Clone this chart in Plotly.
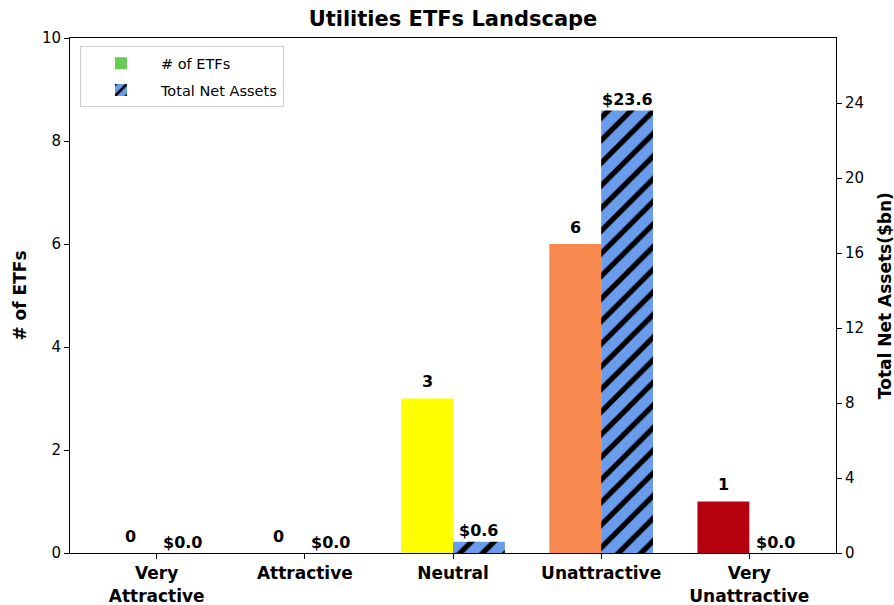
import plotly.graph_objects as go

categories = ["Very<br>Attractive", "Attractive", "Neutral", "Unattractive", "Very<br>Unattractive"]
num_etfs = [0, 0, 3, 6, 1]
net_assets = [0.0, 0.0, 0.6, 23.6, 0.0]
etf_colors = ["#66cc55", "#3cb371", "#ffff00", "#f7894f", "#b5000f"]
asset_color = "#6a9ced"

idx = list(range(len(categories)))
w = 0.35
x_etf = [i - w / 2 for i in idx]
x_ast = [i + w / 2 for i in idx]

font = "DejaVu Sans"

fig = go.Figure()
fig.add_trace(go.Bar(
    x=x_etf, y=num_etfs, width=w, name="# of ETFs",
    marker=dict(color=etf_colors, line=dict(width=0)),
    yaxis="y", legendgroup="a",
))
fig.add_trace(go.Bar(
    x=x_ast, y=net_assets, width=w, name="Total Net Assets",
    marker=dict(color=asset_color, line=dict(width=0),
                pattern=dict(shape="/", fgcolor="black", bgcolor=asset_color, fgopacity=1,
                             size=16, solidity=0.33, fillmode="replace")),
    yaxis="y2", legendgroup="b",
))

annotations = []
for xi, v in zip(x_etf, num_etfs):
    annotations.append(dict(x=xi, y=v, xref="x", yref="y", text=f"<b>{v}</b>",
                            showarrow=False, yanchor="middle", yshift=17,
                            font=dict(family=font, size=16, color="black")))
for xi, v in zip(x_ast, net_assets):
    annotations.append(dict(x=xi, y=v, xref="x", yref="y2", text=f"<b>${v:.1f}</b>",
                            showarrow=False, yanchor="middle", yshift=11,
                            font=dict(family=font, size=16, color="black")))

# axis titles
annotations.append(dict(x=-0.0665, y=0.5, xref="paper", yref="paper", text="<b># of ETFs</b>",
                        textangle=-90, showarrow=False, xanchor="center", yanchor="middle",
                        font=dict(family=font, size=17, color="black")))
annotations.append(dict(x=1.0635, y=0.5, xref="paper", yref="paper", text="<b>Total Net Assets($bn)</b>",
                        textangle=-90, showarrow=False, xanchor="center", yanchor="middle",
                        font=dict(family=font, size=17, color="black")))

fig.update_layout(
    width=894, height=605,
    margin=dict(l=70, r=58, t=38, b=52, autoexpand=False),
    paper_bgcolor="white", plot_bgcolor="white",
    font=dict(family=font, size=15, color="black"),
    title=dict(text="<b>Utilities ETFs Landscape</b>", x=0.5, xanchor="center", xref="paper",
               y=0.970, yanchor="middle", font=dict(size=21, family=font)),
    showlegend=True,
    legend=dict(x=0.013, y=0.984, xanchor="left", yanchor="top",
                bgcolor="rgba(255,255,255,0.8)", bordercolor="#cccccc", borderwidth=1,
                tracegroupgap=5, itemwidth=70,
                font=dict(size=14.5, family=font)),
    xaxis=dict(range=[-0.585, 4.585], tickvals=idx, ticktext=[f"<b>{c}</b>" for c in categories],
               showline=True, linecolor="black", linewidth=1, mirror=True, automargin=False,
               ticks="outside", ticklen=5, tickcolor="black", showgrid=False, zeroline=False,
               tickfont=dict(size=17, family=font)),
    yaxis=dict(range=[0, 10], tickvals=[0, 2, 4, 6, 8, 10], automargin=False,
               showline=True, linecolor="black", linewidth=1,
               ticks="outside", ticklen=5, tickcolor="black", showgrid=False, zeroline=False),
    yaxis2=dict(range=[0, 27.47], tickvals=[0, 4, 8, 12, 16, 20, 24], overlaying="y", side="right",
                automargin=False,
                showline=True, linecolor="black", linewidth=1,
                ticks="outside", ticklen=5, tickcolor="black", showgrid=False, zeroline=False),
    annotations=annotations,
)

fig.write_html("out.html", post_script="document.body.style.margin='0';",
               config={"displayModeBar": False})
